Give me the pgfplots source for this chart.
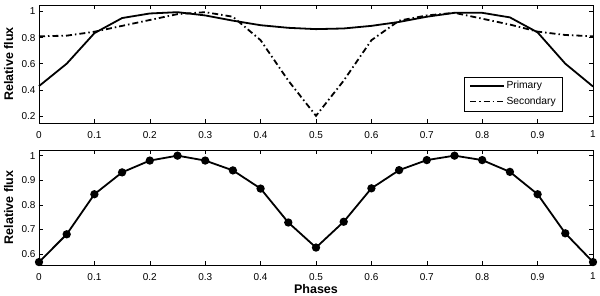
\documentclass[border=0pt]{standalone}
\usepackage{pgfplots}
\pgfplotsset{compat=1.18}
\usepackage{fontspec}
\setmainfont{Liberation Sans}
\begin{document}
\begin{tikzpicture}
\useasboundingbox (0pt,0pt) rectangle (600pt,-295pt);
\pgfplotsset{
  myax/.style={
    scale only axis, width=554pt,
    xmin=0, xmax=1,
    xtick={0,0.1,0.2,0.3,0.4,0.5,0.6,0.7,0.8,0.9,1},
    tick align=inside,
    major tick length=4pt,
    tick style={black, line width=0.5pt},
    axis line style={line width=0.6pt},
    ticklabel style={font=\fontsize{10}{12}\selectfont},
    /pgf/number format/assume math mode=true,
    xticklabel style={yshift=-4.5pt},
    clip=false,
    every axis y label/.style={at={(rel axis cs:0,0.5)}, xshift=-25.5pt, rotate=90, anchor=south, inner sep=0pt, font=\bfseries\fontsize{12.5}{14}\selectfont},
    every axis x label/.style={at={(rel axis cs:0.5,0)}, anchor=base, inner sep=0pt, yshift=-28.3pt, font=\bfseries\fontsize{12.5}{14}\selectfont},
  }
}
\begin{axis}[myax, height=118pt, at={(39pt,-5pt)}, anchor=north west,
  ymin=0.145, ymax=1.05, ytick={0.2,0.4,0.6,0.8,1},
  ylabel={Relative flux},
  legend style={at={(rel axis cs:1,0)}, anchor=south east, xshift=-31pt, yshift=12pt, draw=black, line width=0.5pt, font=\fontsize{10.3}{12}\selectfont, inner xsep=4.5pt, inner ysep=1.5pt, row sep=0pt, nodes={inner xsep=1.5pt, inner ysep=3pt, text height=7.2pt, text depth=2.2pt}},
  legend cell align=left,
  legend image code/.code={\draw[#1] (0pt,0pt) -- (34pt,0pt);},
]
\addplot[black, line width=1.8pt] coordinates {
(0,0.428) (0.05,0.600) (0.1,0.834) (0.15,0.950) (0.2,0.985) (0.25,0.995)
(0.3,0.970) (0.35,0.930) (0.4,0.895) (0.45,0.875) (0.5,0.865) (0.55,0.870)
(0.6,0.890) (0.65,0.920) (0.7,0.960) (0.75,0.990) (0.8,0.990) (0.85,0.955)
(0.9,0.840) (0.95,0.600) (1,0.425)};
\addlegendentry{Primary}
\addplot[black, line width=1.8pt, dash pattern=on 6pt off 3pt on 1.5pt off 3pt] coordinates {
(0,0.810) (0.05,0.815) (0.1,0.845) (0.15,0.890) (0.2,0.935) (0.25,0.980)
(0.3,0.995) (0.35,0.960) (0.4,0.780) (0.45,0.470) (0.5,0.200) (0.55,0.470)
(0.6,0.780) (0.65,0.930) (0.7,0.970) (0.75,0.990) (0.8,0.945) (0.85,0.900)
(0.9,0.846) (0.95,0.820) (1,0.810)};
\addlegendentry{Secondary}
\end{axis}
\begin{axis}[myax, height=115pt, at={(39pt,-150pt)}, anchor=north west,
  ymin=0.555, ymax=1.023, ytick={0.6,0.7,0.8,0.9,1},
  ylabel={Relative flux}, xlabel={Phases},
]
\addplot[black, line width=1.8pt, mark=*, mark size=3.2pt, mark options={solid, fill=black}] coordinates {
(0,0.567) (0.05,0.680) (0.1,0.843) (0.15,0.932) (0.2,0.980) (0.25,1.000)
(0.3,0.980) (0.35,0.940) (0.4,0.866) (0.45,0.728) (0.5,0.626) (0.55,0.731)
(0.6,0.867) (0.65,0.941) (0.7,0.982) (0.75,1.000) (0.8,0.982) (0.85,0.934)
(0.9,0.843) (0.95,0.684) (1,0.567)};
\end{axis}
\end{tikzpicture}
\end{document}
